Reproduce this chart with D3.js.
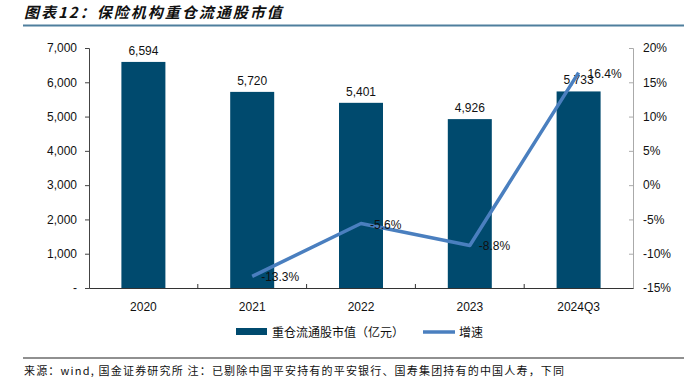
<!DOCTYPE html>
<html>
<head>
<meta charset="utf-8">
<script src="https://cdn.jsdelivr.net/npm/d3@7"></script>
<style>
  body { margin: 0; background: #fff; }
  text { font-family: "Liberation Sans", Arial, sans-serif; }
</style>
</head>
<body>
<script>
// data
var years = ["2020", "2021", "2022", "2023", "2024Q3"];
var marketValue = [6594, 5720, 5401, 4926, 5733];   // 亿元
var growth = [null, -13.3, -5.6, -8.8, 16.4];        // %
var leftTicks = [0, 1000, 2000, 3000, 4000, 5000, 6000, 7000];
var rightTicks = [-15, -10, -5, 0, 5, 10, 15, 20];

var W = 684, H = 389;
var margin = {top: 48, right: 51, bottom: 101, left: 89},
    width = W - margin.left - margin.right,
    height = H - margin.top - margin.bottom;

var barColor = "#004a6e", lineColor = "#4a7fbf";

var svg = d3.select("body").append("svg")
    .attr("width", W)
    .attr("height", H);

// title + rule under it
svg.append("text")
    .attr("x", 24)
    .attr("y", 18)
    .style("font-family", "'Noto Sans CJK SC', sans-serif")
    .style("font-size", "15px")
    .style("font-weight", "bold")
    .style("font-style", "italic")
    .style("letter-spacing", "2px")
    .attr("fill", "#111")
    .text("图表12：保险机构重仓流通股市值");

svg.append("line")
    .attr("x1", 23).attr("x2", 684)
    .attr("y1", 25.5).attr("y2", 25.5)
    .attr("stroke", "#4f7f9d")
    .attr("stroke-width", 2);

var g = svg.append("g")
    .attr("transform", "translate(" + margin.left + "," + margin.top + ")");

// scales
var xc = d3.scaleBand().domain(years).range([0, width]);
var yL = d3.scaleLinear().domain([0, 7000]).range([height, 0]);
var yR = d3.scaleLinear().domain([-15, 20]).range([height, 0]);

// bars
g.selectAll("rect.bar")
    .data(marketValue)
  .enter().append("rect")
    .attr("class", "bar")
    .attr("x", function(d, i) { return xc(years[i]) + xc.bandwidth() / 2 - 22; })
    .attr("width", 44)
    .attr("y", function(d) { return yL(d); })
    .attr("height", function(d) { return height - yL(d); })
    .attr("fill", barColor);

// bar labels
g.selectAll("text.blab")
    .data(marketValue)
  .enter().append("text")
    .attr("class", "blab")
    .attr("x", function(d, i) { return xc(years[i]) + xc.bandwidth() / 2; })
    .attr("y", function(d) { return yL(d) - 7; })
    .attr("text-anchor", "middle")
    .style("font-size", "12px")
    .attr("fill", "#111")
    .text(function(d) { return d3.format(",")(d); });

// left axis
var axL = g.append("g")
    .call(d3.axisLeft(yL).tickValues(leftTicks).tickSize(4).tickPadding(8)
      .tickFormat(function(d) { return d === 0 ? "-" : d3.format(",")(d); }));
axL.select(".domain").attr("stroke", "#444");
axL.selectAll(".tick line").attr("stroke", "#444");
axL.selectAll("text").style("font-size", "12px").attr("fill", "#111");

// right axis
var axR = g.append("g")
    .attr("transform", "translate(" + width + ",0)")
    .call(d3.axisRight(yR).tickValues(rightTicks).tickSize(-4).tickPadding(10)
      .tickFormat(function(d) { return d + "%"; }));
axR.select(".domain").attr("stroke", "#aaa");
axR.selectAll(".tick line").attr("stroke", "#aaa");
axR.selectAll("text").style("font-size", "12px").attr("fill", "#111");

// bottom axis
var axB = g.append("g")
    .attr("transform", "translate(0," + height + ")")
    .call(d3.axisBottom(xc).tickSize(0).tickPadding(14));
axB.select(".domain").attr("stroke", "#333").attr("stroke-width", 1.2);
axB.selectAll("text").style("font-size", "12px").attr("fill", "#111");
// inner ticks between categories
g.selectAll("line.sep")
    .data(years.slice(1))
  .enter().append("line")
    .attr("class", "sep")
    .attr("x1", function(d) { return xc(d); })
    .attr("x2", function(d) { return xc(d); })
    .attr("y1", height).attr("y2", height - 4)
    .attr("stroke", "#333");

// growth line
var pts = growth.map(function(v, i) { return {k: years[i], v: v}; })
    .filter(function(d) { return d.v !== null; });

var line = d3.line()
    .x(function(d) { return xc(d.k) + xc.bandwidth() / 2; })
    .y(function(d) { return yR(d.v); });

g.append("path")
    .datum(pts)
    .attr("d", line)
    .attr("fill", "none")
    .attr("stroke", lineColor)
    .attr("stroke-width", 3.5)
    .attr("stroke-linejoin", "round");

g.selectAll("text.llab")
    .data(pts)
  .enter().append("text")
    .attr("class", "llab")
    .attr("x", function(d) { return xc(d.k) + xc.bandwidth() / 2 + 9; })
    .attr("y", function(d) { return yR(d.v) + 5; })
    .style("font-size", "12px")
    .attr("fill", "#111")
    .text(function(d) { return d.v.toFixed(1) + "%"; });

// legend
var lg = svg.append("g").attr("transform", "translate(0,332)");
lg.append("rect").attr("x", 236).attr("y", -4).attr("width", 31).attr("height", 7).attr("fill", barColor);
lg.append("text").attr("x", 272).attr("y", 5)
    .style("font-family", "'Noto Sans CJK SC', sans-serif")
    .style("font-size", "12px").attr("fill", "#111")
    .text("重仓流通股市值（亿元）");
lg.append("line").attr("x1", 423).attr("x2", 455).attr("y1", 0).attr("y2", 0)
    .attr("stroke", lineColor).attr("stroke-width", 3.5);
lg.append("text").attr("x", 459).attr("y", 5)
    .style("font-family", "'Noto Sans CJK SC', sans-serif")
    .style("font-size", "12px").attr("fill", "#111")
    .text("增速");

// footer
svg.append("line")
    .attr("x1", 23).attr("x2", 684)
    .attr("y1", 358).attr("y2", 358)
    .attr("stroke", "#222").attr("stroke-width", 1.2);
svg.append("text")
    .attr("x", 24).attr("y", 375)
    .style("font-family", "'Noto Sans CJK SC', monospace")
    .style("font-size", "11px")
    .attr("textLength", 540)
    .attr("lengthAdjust", "spacing")
    .attr("fill", "#111")
    .text("来源：wind, 国金证券研究所 注：已剔除中国平安持有的平安银行、国寿集团持有的中国人寿，下同");
</script>
</body>
</html>
